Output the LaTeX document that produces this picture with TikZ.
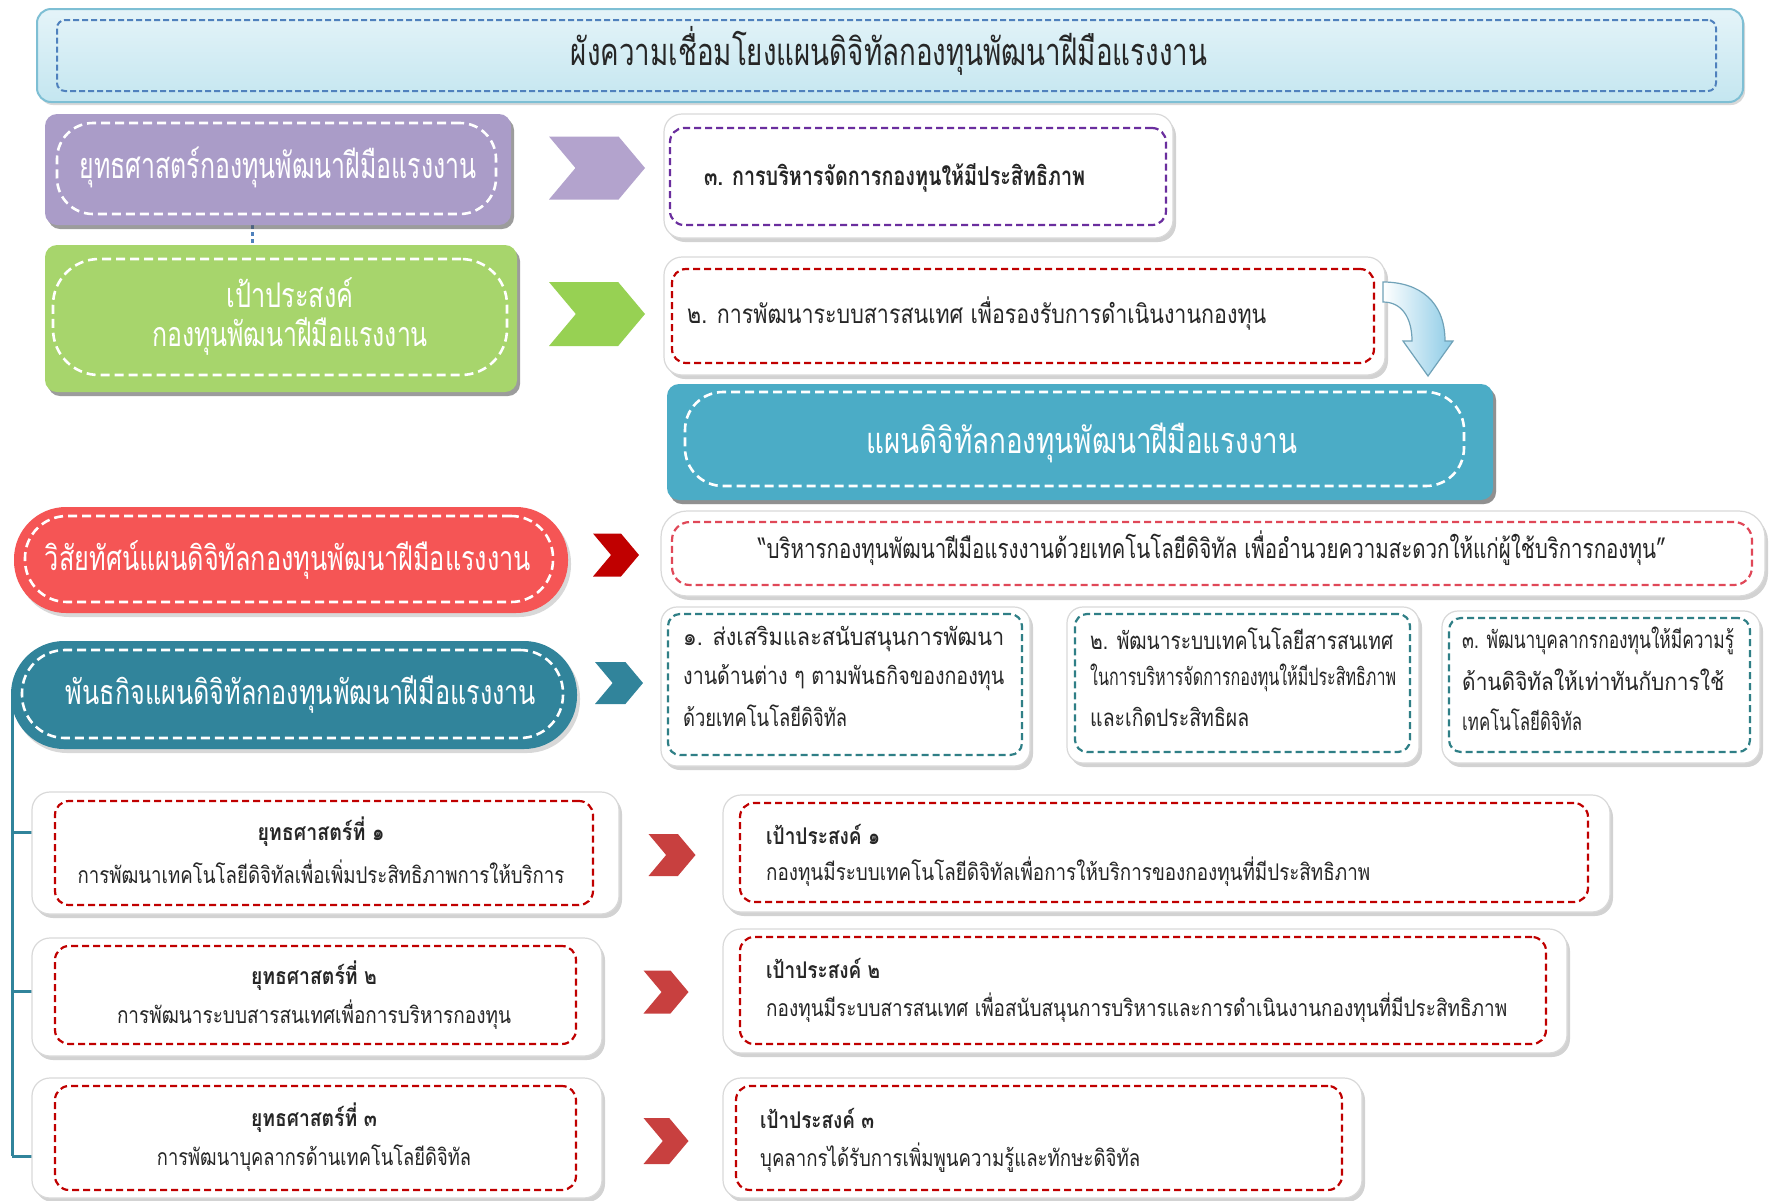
\documentclass[tikz,border=0pt]{standalone}
\usepackage{fontspec}
\usepackage{graphicx}
\setmainfont[Script=Thai]{Loma}
\usetikzlibrary{shadows,shapes.symbols,fit}
\definecolor{ttlfill}{HTML}{C4E6F0}
\definecolor{ttlborder}{HTML}{7EBFD4}
\definecolor{ttldash}{HTML}{4F81BD}
\definecolor{purp}{HTML}{AA9CC8}
\definecolor{purpchev}{HTML}{B3A3CD}
\definecolor{purpdash}{HTML}{6A2E9E}
\definecolor{grn}{HTML}{A7D56C}
\definecolor{grnchev}{HTML}{97D153}
\definecolor{aqua}{HTML}{4BACC6}
\definecolor{coral}{HTML}{F55555}
\definecolor{darkred}{HTML}{C00000}
\definecolor{visdash}{HTML}{E04858}
\definecolor{dteal}{HTML}{31849B}
\definecolor{mdash}{HTML}{2F7F86}
\definecolor{schev}{HTML}{C8403F}
\definecolor{arrowblue}{HTML}{8CCBE6}
\definecolor{txt}{HTML}{262626}
\newcommand{\fw}[2]{\resizebox{#1pt}{\height}{#2}}
\tikzset{
  x=1pt, y=-1pt,
  box/.style={inner sep=0pt, outer sep=0pt},
  colbox/.style={box, rounded corners=12pt, drop shadow={shadow xshift=3pt, shadow yshift=-4pt, opacity=.55, fill=black!70}},
  whitebox/.style={box, fill=white, draw=black!15, line width=1.2pt, rounded corners=18pt,
     drop shadow={shadow xshift=3pt, shadow yshift=-4pt, opacity=.35, fill=black!50}},
  wdash/.style={box, draw=white, line width=2.6pt, dash pattern=on 9pt off 5pt},
  rdash/.style={box, draw=darkred, line width=2.2pt, dash pattern=on 7pt off 4pt, rounded corners=14pt},
  tdash/.style={box, draw=mdash, line width=2.2pt, dash pattern=on 7pt off 4pt, rounded corners=12pt},
  chev/.style={signal, signal from=west, signal to=east, signal pointer angle=100, inner sep=0pt, outer sep=0pt},
  wtext/.style={text=white, inner sep=0pt},
  btext/.style={text=txt, inner sep=0pt},
}
\begin{document}
\begin{tikzpicture}
\useasboundingbox (0,0) rectangle (1780,1200);
\fill[white] (0,0) rectangle (1780,1200);

% ---------- title banner
\node[box, fit={(37,9) (1743,102)}, rounded corners=14pt, top color=ttlfill!45, bottom color=ttlfill, draw=ttlborder, line width=2pt,
  drop shadow={shadow xshift=2pt, shadow yshift=-3pt, opacity=.3}] (title) {};
\node[box, fit={(57,20) (1716,91)}, draw=ttldash, line width=2pt, dash pattern=on 6pt off 3pt, rounded corners=8pt] (titled) {};
\node[btext, font=\fontsize{38}{44}\selectfont] (titlet) at (889,51) {\fw{636}{ผังความเชื่อมโยงแผนดิจิทัลกองทุนพัฒนาฝีมือแรงงาน}};

% ---------- strategy (purple)
\draw[ttldash, line width=3pt, dash pattern=on 4pt off 3pt] (252,225) coordinate (dc1) -- (252,245) coordinate (dc2);
\node[colbox, fill=purp, fit={(45,114) (511,225)}] (strat) {};
\node[wdash, rounded corners=36pt, fit={(57,123) (496,214)}] (stratd) {};
\node[wtext, font=\fontsize{36}{42}\selectfont] (stratt) at (278,167) {\fw{397}{ยุทธศาสตร์กองทุนพัฒนาฝีมือแรงงาน}};
\node[chev, fill=purpchev, minimum width=96pt, minimum height=63pt] (chp) at (597,168) {};

\node[whitebox, fit={(664,114) (1173,238)}] (b3) {};
\node[box, draw=purpdash, line width=2.2pt, dash pattern=on 7pt off 4pt, rounded corners=14pt, fit={(670,128) (1166,225)}] (b3d) {};
\node[btext, anchor=west, font=\bfseries\fontsize{26}{30}\selectfont] (b3t) at (704,178) {\fw{381}{๓. การบริหารจัดการกองทุนให้มีประสิทธิภาพ}};

% ---------- goal (green)
\node[colbox, fill=grn, fit={(45,245) (517,392)}] (goal) {};
\node[wdash, rounded corners=46pt, fit={(53,259) (507,375)}] (goald) {};
\node[wtext, font=\fontsize{34}{40}\selectfont] (goalt1) at (290,293) {\fw{127}{เป้าประสงค์}};
\node[wtext, font=\fontsize{34}{40}\selectfont] (goalt2) at (290,337) {\fw{276}{กองทุนพัฒนาฝีมือแรงงาน}};
\node[chev, fill=grnchev, minimum width=96pt, minimum height=64pt] (chg) at (597,314) {};

\node[whitebox, fit={(664,257) (1385,375)}] (b2) {};
\node[rdash, fit={(672,269) (1374,363)}] (b2d) {};
\node[btext, anchor=west, font=\fontsize{26}{30}\selectfont] (b2t) at (687,314) {\fw{579}{๒. การพัฒนาระบบสารสนเทศ เพื่อรองรับการดำเนินงานกองทุน}};

% curved arrow
\draw[draw=arrowblue!80!black, line width=1.2pt, left color=white, right color=arrowblue]
  (1383,282) .. controls (1420,282) and (1445,302) .. (1445,341)
  -- (1453,341) -- (1428,376) -- (1403,341) -- (1412,341)
  .. controls (1412,318) and (1402,302) .. (1383,302) -- cycle;

% ---------- digital plan (aqua)
\node[colbox, fill=aqua, fit={(667,384) (1493,500)}, drop shadow={shadow xshift=3pt, shadow yshift=-4pt, opacity=.4, fill=black!50}] (plan) {};
\node[wdash, rounded corners=38pt, fit={(685,392) (1464,486)}] (pland) {};
\node[wtext, font=\fontsize{36}{42}\selectfont] (plant) at (1082,443) {\fw{431}{แผนดิจิทัลกองทุนพัฒนาฝีมือแรงงาน}};

% ---------- vision
\node[box, fill=coral, rounded corners=52pt, fit={(14,507) (568,613)}, drop shadow={shadow xshift=3pt, shadow yshift=-4pt, opacity=.3, fill=black!50}] (vis) {};
\node[wdash, rounded corners=42pt, fit={(25,516) (553,602)}] (visd) {};
\node[wtext, font=\fontsize{34}{40}\selectfont] (vist) at (288,560) {\fw{486}{วิสัยทัศน์แผนดิจิทัลกองทุนพัฒนาฝีมือแรงงาน}};
\node[chev, fill=darkred, minimum width=46pt, minimum height=43pt] (chv) at (616,555) {};

\node[whitebox, rounded corners=26pt, fit={(661,511) (1765,596)}] (vb) {};
\node[box, draw=visdash, line width=2.2pt, dash pattern=on 7pt off 4pt, rounded corners=18pt, fit={(672,522) (1752,585)}] (vbd) {};
\node[btext, font=\fontsize{27}{32}\selectfont] (vbt) at (1212,548) {\fw{908}{“บริหารกองทุนพัฒนาฝีมือแรงงานด้วยเทคโนโลยีดิจิทัล เพื่ออำนวยความสะดวกให้แก่ผู้ใช้บริการกองทุน”}};

% ---------- mission
\draw[dteal, line width=3pt] (12,700) coordinate (br0) -- (12,1156) coordinate (br3);
\draw[dteal, line width=3pt] (12,832) -- (32,832) coordinate (br1);
\draw[dteal, line width=3pt] (12,991) -- (32,991) coordinate (br2);
\draw[dteal, line width=3pt] (12,1156) -- (32,1156);

\node[box, fill=dteal, rounded corners=53pt, fit={(11,641) (577,749)}, drop shadow={shadow xshift=3pt, shadow yshift=-4pt, opacity=.3, fill=black!50}] (mis) {};
\node[wdash, rounded corners=43pt, fit={(22,650) (563,738)}] (misd) {};
\node[wtext, font=\fontsize{34}{40}\selectfont] (mist) at (301,695) {\fw{470}{พันธกิจแผนดิจิทัลกองทุนพัฒนาฝีมือแรงงาน}};
\node[chev, fill=dteal, minimum width=48pt, minimum height=42pt] (chm) at (619,683) {};

\node[whitebox, rounded corners=16pt, fit={(661,607) (1030,766)}] (m1) {};
\node[tdash, fit={(668,614) (1022,755)}] (m1d) {};
\node[btext, anchor=west, font=\fontsize{24}{28}\selectfont] (m1a) at (683,639) {\fw{321}{๑. ส่งเสริมและสนับสนุนการพัฒนา}};
\node[btext, anchor=west, font=\fontsize{24}{28}\selectfont] (m1b) at (683,678) {\fw{321}{งานด้านต่าง ๆ ตามพันธกิจของกองทุน}};
\node[btext, anchor=west, font=\fontsize{24}{28}\selectfont] (m1c) at (683,716) {\fw{164}{ด้วยเทคโนโลยีดิจิทัล}};

\node[whitebox, rounded corners=16pt, fit={(1067,607) (1419,763)}] (m2) {};
\node[tdash, fit={(1075,614) (1410,752)}] (m2d) {};
\node[btext, anchor=west, font=\fontsize{24}{28}\selectfont] (m2a) at (1090,639) {\fw{303}{๒. พัฒนาระบบเทคโนโลยีสารสนเทศ}};
\node[btext, anchor=west, font=\fontsize{24}{28}\selectfont] (m2b) at (1090,678) {\fw{306}{ในการบริหารจัดการกองทุนให้มีประสิทธิภาพ}};
\node[btext, anchor=west, font=\fontsize{24}{28}\selectfont] (m2c) at (1090,717) {\fw{159}{และเกิดประสิทธิผล}};

\node[whitebox, rounded corners=16pt, fit={(1442,611) (1760,763)}] (m3) {};
\node[tdash, fit={(1449,618) (1750,752)}] (m3d) {};
\node[btext, anchor=west, font=\fontsize{24}{28}\selectfont] (m3a) at (1462,641) {\fw{272}{๓. พัฒนาบุคลากรกองทุนให้มีความรู้}};
\node[btext, anchor=west, font=\fontsize{24}{28}\selectfont] (m3b) at (1462,680) {\fw{262}{ด้านดิจิทัลให้เท่าทันกับการใช้}};
\node[btext, anchor=west, font=\fontsize{24}{28}\selectfont] (m3c) at (1462,720) {\fw{120}{เทคโนโลยีดิจิทัล}};

% ---------- strategies
\node[whitebox, fit={(32,792) (619,914)}] (s1) {};
\node[rdash, fit={(55,801) (593,905)}] (s1d) {};
\node[btext, font=\bfseries\fontsize{23}{27}\selectfont] (s1a) at (321,832) {\fw{127}{ยุทธศาสตร์ที่ ๑}};
\node[btext, font=\fontsize{23}{27}\selectfont] (s1b) at (321,872) {\fw{487}{การพัฒนาเทคโนโลยีดิจิทัลเพื่อเพิ่มประสิทธิภาพการให้บริการ}};

\node[whitebox, fit={(32,938) (602,1056)}] (s2) {};
\node[rdash, fit={(55,946) (576,1044)}] (s2d) {};
\node[btext, font=\bfseries\fontsize{23}{27}\selectfont] (s2a) at (314,976) {\fw{126}{ยุทธศาสตร์ที่ ๒}};
\node[btext, font=\fontsize{23}{27}\selectfont] (s2b) at (314,1015) {\fw{394}{การพัฒนาระบบสารสนเทศเพื่อการบริหารกองทุน}};

\node[whitebox, fit={(32,1078) (602,1198)}] (s3) {};
\node[rdash, fit={(55,1086) (576,1190)}] (s3d) {};
\node[btext, font=\bfseries\fontsize{23}{27}\selectfont] (s3a) at (314,1118) {\fw{126}{ยุทธศาสตร์ที่ ๓}};
\node[btext, font=\fontsize{23}{27}\selectfont] (s3b) at (314,1158) {\fw{314}{การพัฒนาบุคลากรด้านเทคโนโลยีดิจิทัล}};

\node[chev, fill=schev, minimum width=47pt, minimum height=42pt] (c1) at (672,855) {};
\node[chev, fill=schev, minimum width=45pt, minimum height=43pt] (c2) at (666,992) {};
\node[chev, fill=schev, minimum width=45pt, minimum height=46pt] (c3) at (666,1141) {};

% ---------- goals
\node[whitebox, fit={(723,795) (1610,912)}] (g1) {};
\node[rdash, fit={(740,803) (1588,902)}] (g1d) {};
\node[btext, anchor=west, font=\bfseries\fontsize{23}{27}\selectfont] (g1a) at (766,834) {\fw{114}{เป้าประสงค์ ๑}};
\node[btext, anchor=west, font=\fontsize{23}{27}\selectfont] (g1b) at (766,872) {\fw{604}{กองทุนมีระบบเทคโนโลยีดิจิทัลเพื่อการให้บริการของกองทุนที่มีประสิทธิภาพ}};

\node[whitebox, fit={(723,929) (1567,1053)}] (g2) {};
\node[rdash, fit={(740,937) (1546,1044)}] (g2d) {};
\node[btext, anchor=west, font=\bfseries\fontsize{23}{27}\selectfont] (g2a) at (766,968) {\fw{114}{เป้าประสงค์ ๒}};
\node[btext, anchor=west, font=\fontsize{23}{27}\selectfont] (g2b) at (766,1008) {\fw{741}{กองทุนมีระบบสารสนเทศ เพื่อสนับสนุนการบริหารและการดำเนินงานกองทุนที่มีประสิทธิภาพ}};

\node[whitebox, fit={(723,1078) (1362,1198)}] (g3) {};
\node[rdash, fit={(736,1086) (1342,1190)}] (g3d) {};
\node[btext, anchor=west, font=\bfseries\fontsize{23}{27}\selectfont] (g3a) at (760,1118) {\fw{114}{เป้าประสงค์ ๓}};
\node[btext, anchor=west, font=\fontsize{23}{27}\selectfont] (g3b) at (760,1158) {\fw{380}{บุคลากรได้รับการเพิ่มพูนความรู้และทักษะดิจิทัล}};
\end{tikzpicture}
\end{document}
